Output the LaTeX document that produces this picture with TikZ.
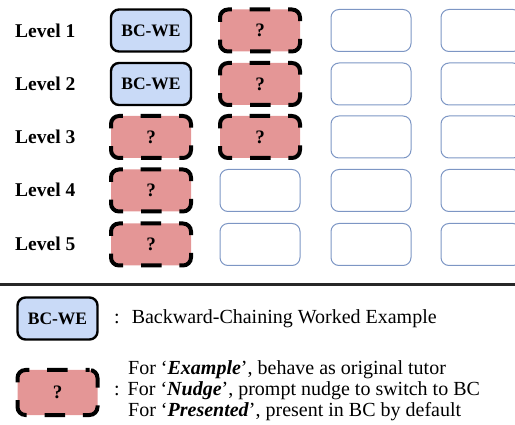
\documentclass[tikz,border=0pt]{standalone}
\usepackage{fontspec}
\setmainfont{Liberation Serif}
\usetikzlibrary{positioning}
\definecolor{weblue}{RGB}{201,218,247}
\definecolor{qpink}{RGB}{228,150,150}
\definecolor{emptyline}{RGB}{125,150,196}
\definecolor{ruleline}{RGB}{40,40,40}

\begin{document}
\begin{tikzpicture}[x=1pt,y=-1pt,
  lvl/.style={anchor=base west,inner sep=0pt,font=\fontsize{19.5}{21}\selectfont\bfseries},
  box/.style={rectangle,rounded corners=8pt,minimum width=80pt,minimum height=42pt,inner sep=0pt},
  webox/.style={box,draw=black,line width=2.4pt,fill=weblue,font=\fontsize{17.5}{19}\selectfont\bfseries},
  qbox/.style={box,draw=black,line width=4pt,fill=qpink,dash pattern=on 20.6pt off 17.8pt,dash phase=16.6pt,font=\fontsize{19}{21}\selectfont\bfseries},
  emptybox/.style={box,draw=emptyline,line width=1pt},
  legtext/.style={anchor=base west,inner sep=0pt,font=\fontsize{20}{22}\selectfont}]

\clip (0,0) rectangle (515,425);

\node[lvl] (lvl1) at (15,37.5) {Level 1};
\node[lvl] (lvl2) at (15,90.5) {Level 2};
\node[lvl] (lvl3) at (15,144) {Level 3};
\node[lvl] (lvl4) at (15,197) {Level 4};
\node[lvl] (lvl5) at (15,251) {Level 5};

\node[webox] (r1c1) at (151,30.5) {BC-WE};
\node[qbox] (r1c2) at (260,30.5) {?};
\node[emptybox] (r1c3) at (371,30.5) {};
\node[emptybox] (r1c4) at (481,30.5) {};

\node[webox] (r2c1) at (151,84) {BC-WE};
\node[qbox] (r2c2) at (260,84) {?};
\node[emptybox] (r2c3) at (371,84) {};
\node[emptybox] (r2c4) at (481,84) {};

\node[qbox] (r3c1) at (151,137) {?};
\node[qbox] (r3c2) at (260,137) {?};
\node[emptybox] (r3c3) at (371,137) {};
\node[emptybox] (r3c4) at (481,137) {};

\node[qbox] (r4c1) at (151,190.5) {?};
\node[emptybox] (r4c2) at (260,190.5) {};
\node[emptybox] (r4c3) at (371,190.5) {};
\node[emptybox] (r4c4) at (481,190.5) {};

\node[qbox] (r5c1) at (151,244.5) {?};
\node[emptybox] (r5c2) at (260,244.5) {};
\node[emptybox] (r5c3) at (371,244.5) {};
\node[emptybox] (r5c4) at (481,244.5) {};

% legend
\draw[ruleline, line width=2.5pt] (0,284.5) -- (515,284.5);

\node[webox] (legwe) at (57.5,318.5) {BC-WE};
\node[legtext] (legwetxt) at (114,323.5) {:\hspace{0.6em}Backward-Chaining Worked Example};

\node[qbox, minimum height=45pt] (legq) at (57.5,392.5) {?};
\node[legtext] (legqa) at (128,374) {For `\textbf{\textit{Example}}', behave as original tutor};
\node[legtext] (legqb) at (114,395.5) {:\hspace{0.4em}For `\textbf{\textit{Nudge}}', prompt nudge to switch to BC};
\node[legtext] (legqc) at (128,417) {For `\textbf{\textit{Presented}}', present in BC by default};

\end{tikzpicture}
\end{document}
